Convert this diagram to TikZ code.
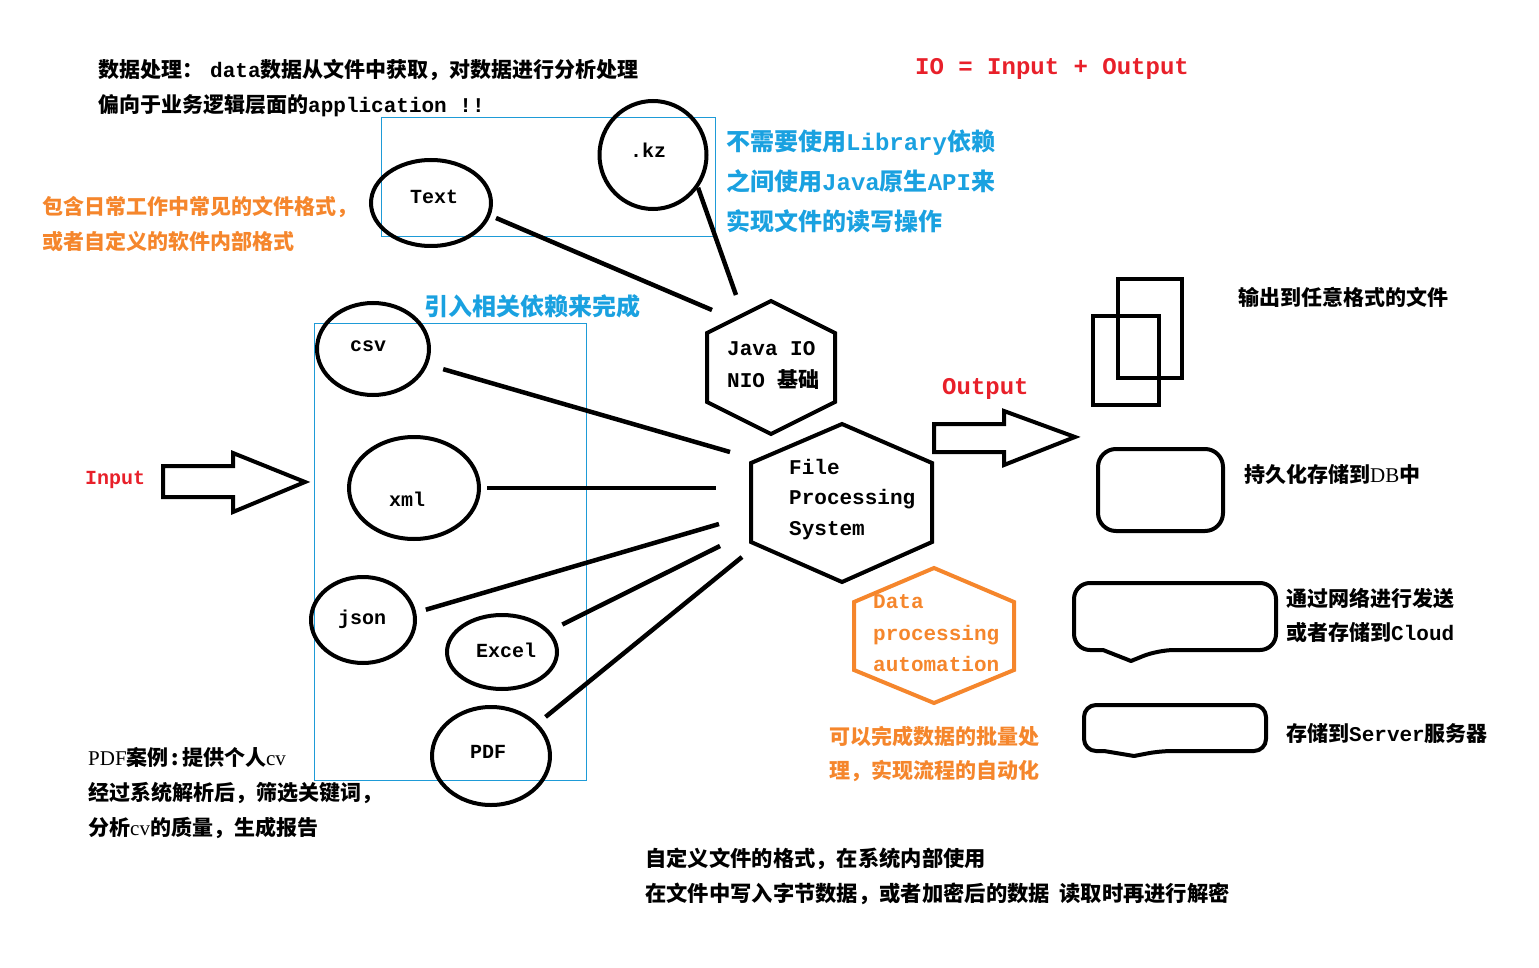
\documentclass[tikz,border=0pt]{standalone}
\usepackage{fontspec}
\setmainfont{Noto Sans CJK SC}
\setmonofont{Liberation Mono}
\newfontfamily\serifx{Liberation Serif}
\usetikzlibrary{shapes.geometric}

\definecolor{ioRed}{HTML}{E8202A}
\definecolor{noteOrange}{HTML}{F5862C}
\definecolor{noteBlue}{HTML}{1AA1E0}
\definecolor{boxBlue}{HTML}{1E9BD7}

\newcommand{\mono}[1]{{\ttfamily\bfseries #1}}

\begin{document}
\begin{tikzpicture}[x=1pt,y=-1pt]
    \useasboundingbox (0,0) rectangle (1539,968);

    \tikzset{
        FileStyle/.style={ellipse, draw, line width=4pt, inner sep=0pt},
        LabelStyle/.style={inner sep=0pt, font=\ttfamily\bfseries\fontsize{20}{24}\selectfont},
        EdgeStyle/.style={line width=4.5pt},
        ShapeStyle/.style={line width=4pt, line join=miter},
        NoteStyle/.style={anchor=west, align=left, inner sep=0pt, font=\bfseries\fontsize{21}{35}\selectfont}
    }

    \draw[boxBlue, line width=1pt] (381,118) rectangle (715,237);
    \draw[boxBlue, line width=1pt] (314,323) rectangle (586,780);

    \node[NoteStyle] (proc) at (98,88)
        {数据处理：\hspace{7pt}\mono{data}数据从文件中获取，对数据进行分析处理\\偏向于业务逻辑层面的\mono{application !!}};
    \node[NoteStyle, text=ioRed, font=\ttfamily\bfseries\fontsize{24}{28}\selectfont] (io) at (915,69)
        {IO = Input + Output};
    \node[NoteStyle, text=noteOrange] (common) at (42,224.5)
        {包含日常工作中常见的文件格式，\\或者自定义的软件内部格式};
    \node[NoteStyle, text=noteBlue, font=\bfseries\fontsize{24}{40}\selectfont] (native) at (726,181)
        {不需要使用\mono{Library}依赖\\之间使用\mono{Java}原生\mono{API}来\\实现文件的读写操作};
    \node[NoteStyle, text=noteBlue, font=\bfseries\fontsize{24}{28}\selectfont] (deps) at (424,306)
        {引入相关依赖来完成};

    % input files
    \node[FileStyle, minimum width=107pt, minimum height=108pt] (kz) at (653,155) {};
    \node[FileStyle, minimum width=120pt, minimum height=86pt] (txt) at (431,203) {};
    \node[FileStyle, minimum width=112pt, minimum height=92pt] (csv) at (373,349) {};
    \node[FileStyle, minimum width=130pt, minimum height=102pt] (xml) at (414,488) {};
    \node[FileStyle, minimum width=104pt, minimum height=86pt] (json) at (363,620) {};
    \node[FileStyle, minimum width=110pt, minimum height=74pt] (excel) at (502,652) {};
    \node[FileStyle, minimum width=118pt, minimum height=98pt] (pdf) at (491,756) {};

    \node[LabelStyle] at (648,150) {.kz};
    \node[LabelStyle] at (434,197) {Text};
    \node[LabelStyle] at (368,346) {csv};
    \node[LabelStyle] at (407,499) {xml};
    \node[LabelStyle] at (362,619) {json};
    \node[LabelStyle] at (506,650) {Excel};
    \node[LabelStyle] at (488,752) {PDF};

    % hexagons
    \draw[ShapeStyle] (771,301) -- (835,333) -- (835,402) -- (771,434) -- (707,402) -- (707,333) -- cycle;
    \draw[ShapeStyle] (842,424) -- (932,463) -- (932,542) -- (842,582) -- (751,542) -- (751,463) -- cycle;
    \draw[ShapeStyle, noteOrange] (934,568) -- (1014,602) -- (1014,670) -- (934,703) -- (854,670) -- (854,602) -- cycle;

    \node[NoteStyle, font=\bfseries\fontsize{21}{32}\selectfont] (javaio) at (727,365)
        {\mono{Java IO}\\\mono{NIO }基础};
    \node[NoteStyle, font=\ttfamily\bfseries\fontsize{21}{30.5}\selectfont] (fps) at (789,499.5)
        {File\\Processing\\System};
    \node[NoteStyle, text=noteOrange, font=\ttfamily\bfseries\fontsize{21}{31.5}\selectfont] (dpa) at (873,633.5)
        {Data\\processing\\automation};

    \coordinate (io-t) at (712,310);
    \coordinate (io-k) at (736,295);
    \coordinate (fps-1) at (730,452);
    \coordinate (fps-2) at (716,488);
    \coordinate (fps-3) at (719,524);
    \coordinate (fps-4) at (720,546);
    \coordinate (fps-5) at (742,557);

    \draw[EdgeStyle, shorten <=6pt] (txt.-12) -- (io-t);
    \draw[EdgeStyle] (kz.-36) -- (io-k);
    \draw[EdgeStyle, shorten <=16pt] (csv.-16) -- (fps-1);
    \draw[EdgeStyle, shorten <=6pt] (xml.east) -- (fps-2);
    \draw[EdgeStyle, shorten <=10pt] (json.8) -- (fps-3);
    \draw[EdgeStyle, shorten <=14pt] (excel.24) -- (fps-4);
    \draw[EdgeStyle, shorten <=10pt] (pdf.35) -- (fps-5);

    % input / output arrows
    \node[NoteStyle, text=ioRed, font=\ttfamily\bfseries\fontsize{20}{24}\selectfont] (input) at (85,480) {Input};
    \draw[ShapeStyle] (163,466) -- (233,466) -- (233,453) -- (305,482) -- (233,512) -- (233,497) -- (163,497) -- cycle;
    \node[NoteStyle, text=ioRed, font=\ttfamily\bfseries\fontsize{24}{28}\selectfont] (output) at (942,389) {Output};
    \draw[ShapeStyle] (934,424) -- (1004,424) -- (1004,411) -- (1075,437) -- (1004,465) -- (1004,452) -- (934,452) -- cycle;

    % output targets
    \draw[ShapeStyle] (1118,279) rectangle (1182,378);
    \draw[ShapeStyle] (1093,316) rectangle (1159,405);
    \draw[ShapeStyle, rounded corners=18pt] (1098,449) rectangle (1223,531);
    \draw[ShapeStyle, line join=round] (1131,661) -- (1103,650) [rounded corners=16pt] -- (1074,650) -- (1074,583) -- (1276,583) -- (1276,650) -- (1158,650) [sharp corners] -- cycle;
    \draw[ShapeStyle, line join=round] (1134,756) -- (1104,751) [rounded corners=12pt] -- (1084,751) -- (1084,705) -- (1266,705) -- (1266,751) -- (1160,751) [sharp corners] -- cycle;

    \node[NoteStyle] (file) at (1238,297) {输出到任意格式的文件};
    \node[NoteStyle] (db) at (1244,474) {持久化存储到{\serifx\mdseries DB}中};
    \node[NoteStyle, font=\bfseries\fontsize{21}{34.5}\selectfont] (cloud) at (1286,615.5) {通过网络进行发送\\或者存储到\mono{Cloud}};
    \node[NoteStyle] (server) at (1286,733) {存储到\mono{Server}服务器};

    % remarks
    \node[NoteStyle] (cv) at (88,793)
        {{\serifx\mdseries PDF}案例\hspace{3pt}:\hspace{3pt}提供个人{\serifx\mdseries cv}\\经过系统解析后，筛选关键词，\\分析{\serifx\mdseries cv}的质量，生成报告};
    \node[NoteStyle, text=noteOrange, font=\bfseries\fontsize{21}{34}\selectfont] (batch) at (829,754)
        {可以完成数据的批量处\\理，实现流程的自动化};
    \node[NoteStyle, font=\bfseries\fontsize{21.3}{35}\selectfont] (custom) at (645,876.5)
        {自定义文件的格式，在系统内部使用\\在文件中写入字节数据，或者加密后的数据\hspace{0.45em}读取时再进行解密};
\end{tikzpicture}
\end{document}
